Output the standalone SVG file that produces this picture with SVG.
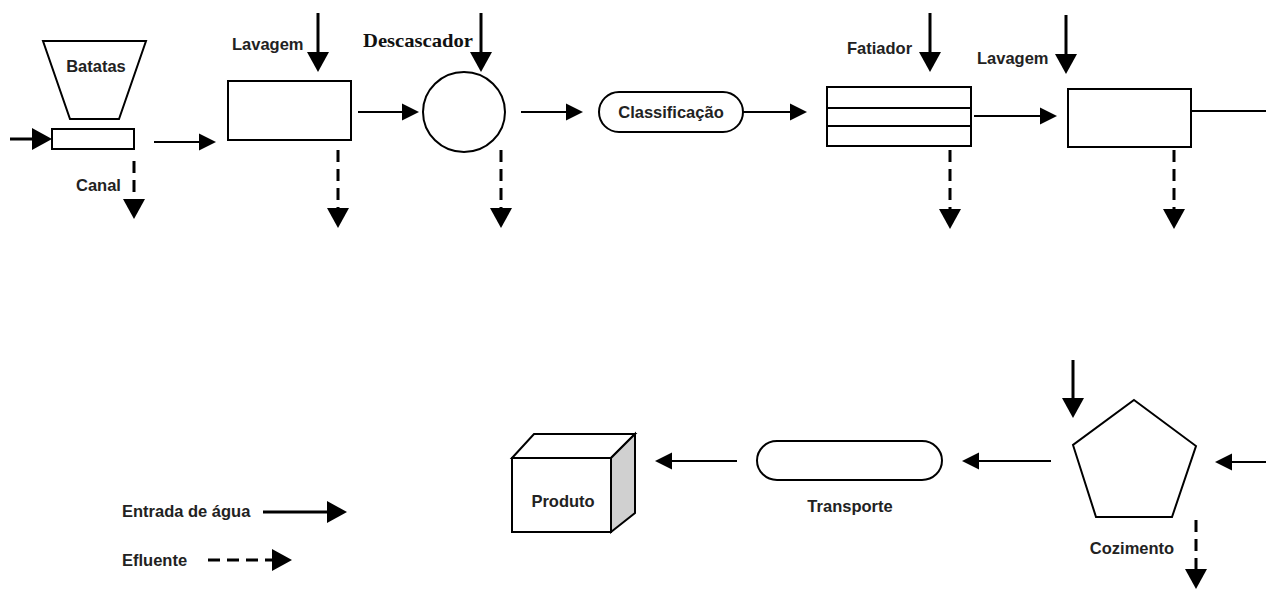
<svg xmlns="http://www.w3.org/2000/svg" width="1266" height="591" viewBox="0 0 1266 591">
<style>
.shape{fill:#fff;stroke:#000;stroke-width:2}
.lbl{font-family:"Liberation Sans",Arial,sans-serif;font-weight:bold;font-size:16.5px;fill:#222}
.serif{font-family:"Liberation Serif","Times New Roman",serif;font-weight:bold;font-size:19px;fill:#111}
.thick{stroke:#000;stroke-width:3;fill:none;marker-end:url(#big)}
.thin{stroke:#000;stroke-width:2;fill:none;marker-end:url(#small)}
.dash{stroke:#000;stroke-width:3;fill:none;stroke-dasharray:12 7;marker-end:url(#big)}
</style>
<defs>
<marker id="big" markerUnits="userSpaceOnUse" markerWidth="20" markerHeight="22" refX="10" refY="11" orient="auto" overflow="visible">
<path d="M0,0 L20,11 L0,22 Z" fill="#000"/>
</marker>
<marker id="small" markerUnits="userSpaceOnUse" markerWidth="17" markerHeight="17" refX="8" refY="8.5" orient="auto" overflow="visible">
<path d="M0,0 L17,8.5 L0,17 Z" fill="#000"/>
</marker>
</defs>
<rect width="1266" height="591" fill="#fff"/>

<g id="batatas">
<polygon class="shape" points="43,41 146,41 119,119 70,119"/>
<text class="lbl" x="96" y="72" text-anchor="middle">Batatas</text>
</g>
<g id="canal">
<rect class="shape" x="52" y="129" width="82" height="20"/>
<text class="lbl" x="76" y="191">Canal</text>
</g>
<g id="lavagem1">
<rect class="shape" x="228" y="81" width="123" height="59"/>
<text class="lbl" x="232" y="50">Lavagem</text>
</g>
<g id="descascador">
<ellipse class="shape" cx="464" cy="112" rx="41" ry="40"/>
<text class="serif" x="363" y="47" textLength="110" lengthAdjust="spacingAndGlyphs">Descascador</text>
</g>
<g id="classificacao">
<rect class="shape" x="599" y="92" width="144" height="40" rx="20" ry="20"/>
<text class="lbl" x="671" y="118" text-anchor="middle">Classificação</text>
</g>
<g id="fatiador">
<rect class="shape" x="827" y="87" width="144" height="59"/>
<line x1="827" y1="108" x2="971" y2="108" stroke="#000" stroke-width="2"/>
<line x1="827" y1="126" x2="971" y2="126" stroke="#000" stroke-width="2"/>
<text class="lbl" x="847" y="54">Fatiador</text>
</g>
<g id="lavagem2">
<rect class="shape" x="1068" y="89" width="123" height="58"/>
<text class="lbl" x="977" y="64">Lavagem</text>
</g>
<g id="cozimento">
<polygon class="shape" points="1134,400 1196,446 1172,517 1096,517 1073,445"/>
<text class="lbl" x="1132" y="554" text-anchor="middle">Cozimento</text>
</g>
<g id="transporte">
<rect class="shape" x="757" y="441" width="185" height="39" rx="20" ry="19.5"/>
<text class="lbl" x="850" y="512" text-anchor="middle">Transporte</text>
</g>
<g id="produto">
<polygon class="shape" points="512,458 534,434 635,434 611,458"/>
<polygon points="611,458 635,434 635,513 611,532" fill="#d0d0d0" stroke="#000" stroke-width="2"/>
<rect class="shape" x="512" y="458" width="99" height="74"/>
<text class="lbl" x="563" y="507" text-anchor="middle">Produto</text>
</g>
<g id="legenda">
<text class="lbl" x="122" y="517">Entrada de água</text>
<line class="thick" x1="263" y1="512" x2="337" y2="512"/>
<text class="lbl" x="122" y="566">Efluente</text>
<line class="dash" x1="208" y1="560" x2="282" y2="560"/>
</g>

<g id="connectors">
<line class="thick" x1="10" y1="139" x2="42" y2="139"/>
<line class="thick" x1="318" y1="13" x2="318" y2="62"/>
<line class="thick" x1="481" y1="13" x2="481" y2="62"/>
<line class="thick" x1="930" y1="13" x2="930" y2="62"/>
<line class="thick" x1="1066" y1="15" x2="1066" y2="64"/>
<line class="thick" x1="1073" y1="360" x2="1073" y2="408"/>

<line class="thin" x1="154" y1="142" x2="207" y2="142"/>
<line class="thin" x1="358" y1="112" x2="410" y2="112"/>
<line class="thin" x1="521" y1="112" x2="574" y2="112"/>
<line class="thin" x1="743" y1="112" x2="798" y2="112"/>
<line class="thin" x1="974" y1="116" x2="1048" y2="116"/>
<line x1="1191" y1="111" x2="1266" y2="111" stroke="#000" stroke-width="2"/>
<line class="thin" x1="1266" y1="462" x2="1224" y2="462"/>
<line class="thin" x1="1051" y1="461" x2="971" y2="461"/>
<line class="thin" x1="737" y1="461" x2="664" y2="461"/>

<line class="dash" x1="134" y1="161" x2="134" y2="209"/>
<line class="dash" x1="338" y1="150" x2="338" y2="218"/>
<line class="dash" x1="501" y1="150" x2="501" y2="218"/>
<line class="dash" x1="950" y1="150" x2="950" y2="219"/>
<line class="dash" x1="1174" y1="150" x2="1174" y2="219"/>
<line class="dash" x1="1196" y1="520" x2="1196" y2="579"/>
</g>
</svg>
